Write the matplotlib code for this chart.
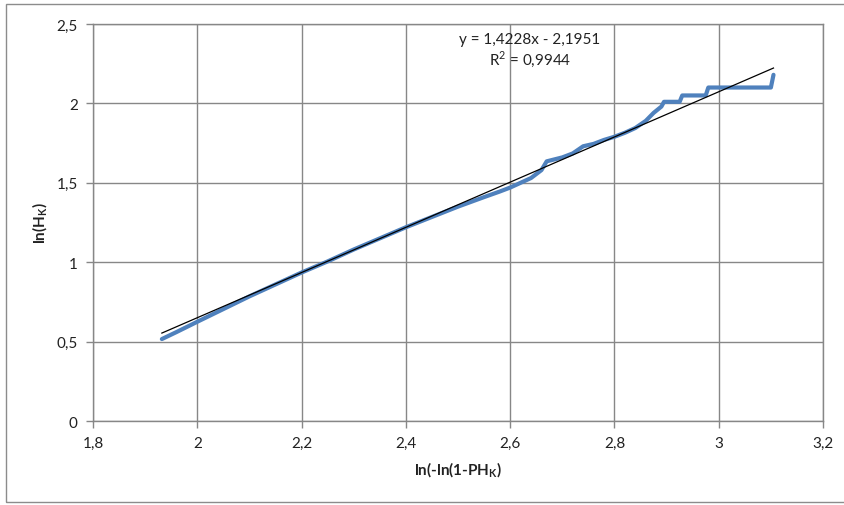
import matplotlib.pyplot as plt
from matplotlib.patches import Rectangle

plt.rcParams['font.family'] = ['Lato', 'DejaVu Sans']

# observed curve
x_obs = [1.932, 1.96, 2.0, 2.05, 2.1, 2.15, 2.2, 2.25, 2.3, 2.35, 2.4, 2.45,
         2.5, 2.55, 2.58, 2.6, 2.62, 2.64, 2.66, 2.67, 2.70, 2.72, 2.74, 2.76,
         2.78, 2.80, 2.82, 2.84, 2.86, 2.875, 2.89, 2.895, 2.925, 2.93, 2.975,
         2.98, 3.10, 3.105]
y_obs = [0.516, 0.56, 0.625, 0.705, 0.785, 0.86, 0.935, 1.005, 1.08, 1.15,
         1.22, 1.285, 1.35, 1.41, 1.445, 1.47, 1.50, 1.53, 1.58, 1.635, 1.66,
         1.685, 1.73, 1.745, 1.77, 1.79, 1.815, 1.845, 1.89, 1.94, 1.98, 2.01,
         2.01, 2.05, 2.05, 2.10, 2.10, 2.18]

# linear trend
slope = 1.4228
intercept = -2.1951
x_fit = [1.932, 3.105]
y_fit = [slope * v + intercept for v in x_fit]

x_ticks = [1.8, 2.0, 2.2, 2.4, 2.6, 2.8, 3.0, 3.2]
x_labels = ['1,8', '2', '2,2', '2,4', '2,6', '2,8', '3', '3,2']
y_ticks = [0, 0.5, 1, 1.5, 2, 2.5]
y_labels = ['0', '0,5', '1', '1,5', '2', '2,5']

fig = plt.figure(figsize=(8.45, 5.06), dpi=100)
ax = fig.add_axes([0.1101, 0.166, 0.8639, 0.7846])

grid_c = '#878787'
ax.plot(x_obs, y_obs, color='#4F81BD', linewidth=3, solid_capstyle='round', zorder=3)
ax.plot(x_fit, y_fit, color='black', linewidth=0.9, zorder=4)

ax.set_xlim(1.8, 3.2)
ax.set_ylim(0, 2.5)
ax.set_xticks(x_ticks)
ax.set_xticklabels(x_labels)
ax.set_yticks(y_ticks)
ax.set_yticklabels(y_labels)
ax.grid(True, color=grid_c, linewidth=1)
ax.set_axisbelow(True)
for s in ax.spines.values():
    s.set_color(grid_c)
    s.set_linewidth(1)
ax.tick_params(axis='both', length=5, width=1, color=grid_c, labelsize=11,
               labelcolor='#222222', pad=6)

ax.set_xlabel('ln(-ln(1-PH$_\\mathregular{K}$)', fontsize=11, fontweight='bold',
              color='#222222', labelpad=7)
ax.set_ylabel('ln(H$_\\mathregular{K}$)', fontsize=11, fontweight='bold',
              color='#222222', labelpad=5)

# trendline equation
ax.text(2.638, 2.405, 'y = 1,4228x - 2,1951', ha='center', va='center',
        fontsize=11, color='#222222')
ax.text(2.638, 2.285, 'R$^\\mathregular{2}$ = 0,9944', ha='center', va='center',
        fontsize=11, color='#222222')

# chart frame
fig.patches.append(Rectangle((6 / 845, 1 - 503 / 506), 1.0, 498 / 506,
                             transform=fig.transFigure, fill=False,
                             edgecolor='#8c8c8c', linewidth=1, clip_on=False))

fig.savefig('out.png', dpi=100)
